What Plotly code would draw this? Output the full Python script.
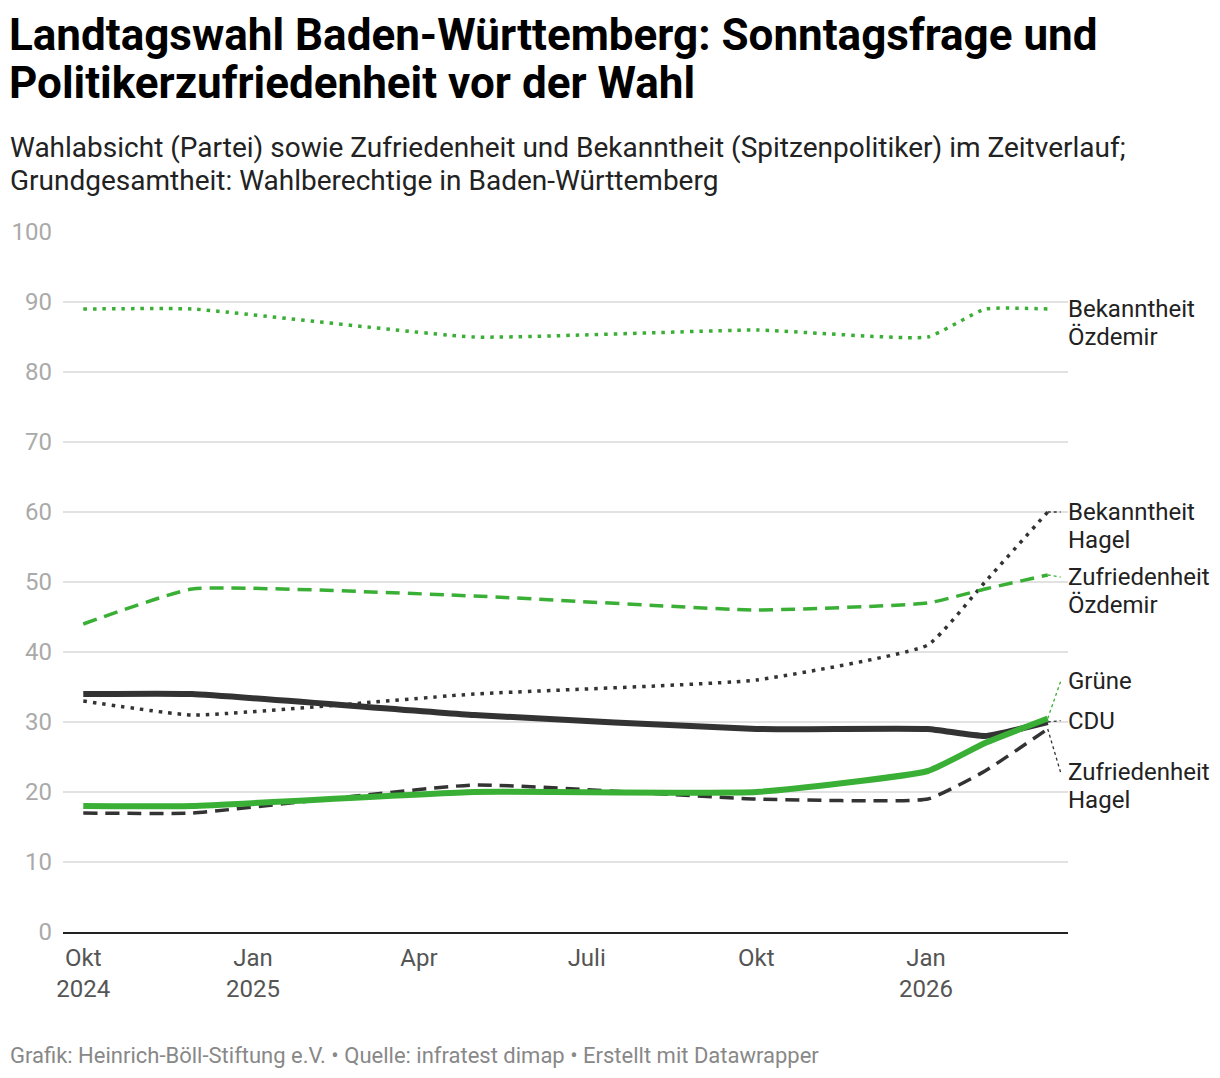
import plotly.graph_objects as go
from datetime import date, timedelta

# ---- data ----
dates = ["2024-10-01", "2024-11-29", "2025-05-01", "2025-10-01", "2026-01-02", "2026-02-02", "2026-03-08"]
gruene = [18, 18, 20, 20, 23, 27, 30.5]
cdu = [34, 34, 31, 29, 29, 28, 30]
zufr_oezdemir = [44, 49, 48, 46, 47, 49, 51]
bek_oezdemir = [89, 89, 85, 86, 85, 89, 89]
zufr_hagel = [17, 17, 21, 19, 19, 23, 29]
bek_hagel = [33, 31, 34, 36, 41, 50, 60]

tick_vals = ["2024-10-01", "2025-01-01", "2025-04-01", "2025-07-01", "2025-10-01", "2026-01-01"]
tick_text = ["Okt<br>2024", "Jan<br>2025", "Apr", "Juli", "Okt", "Jan<br>2026"]

title_lines = ["Landtagswahl Baden-Württemberg: Sonntagsfrage und",
               "Politikerzufriedenheit vor der Wahl"]
subtitle_lines = ["Wahlabsicht (Partei) sowie Zufriedenheit und Bekanntheit (Spitzenpolitiker) im Zeitverlauf;",
                  "Grundgesamtheit: Wahlberechtige in Baden-Württemberg"]
footer = "Grafik: Heinrich-Böll-Stiftung e.V. • Quelle: infratest dimap • Erstellt mit Datawrapper"

GREEN = "#3aaf35"
DARK = "#333333"
DOT = "3.5px,6px"
DASH = "14px,8px"

series = [
    # name, values, color, dash, width, label lines, label_y
    ("Bekanntheit Özdemir", bek_oezdemir, GREEN, DOT, 3.5, ["Bekanntheit", "Özdemir"], 89),
    ("Bekanntheit Hagel", bek_hagel, DARK, DOT, 3.5, ["Bekanntheit", "Hagel"], 60),
    ("Zufriedenheit Özdemir", zufr_oezdemir, GREEN, DASH, 3.5, ["Zufriedenheit", "Özdemir"], 50.7),
    ("Zufriedenheit Hagel", zufr_hagel, DARK, DASH, 3.5, ["Zufriedenheit", "Hagel"], 22.8),
    ("CDU", cdu, DARK, "solid", 6, ["CDU"], 30.2),
    ("Grüne", gruene, GREEN, "solid", 6, ["Grüne"], 35.8),
]

W, H = 1220, 1078
PL, PR, PT, PB = 63, 1068, 232, 932


def py(pixel_y):
    return (PB - pixel_y) / (PB - PT)


def px(pixel_x):
    return (pixel_x - PL) / (PR - PL)


fig = go.Figure()
last_date = date.fromisoformat(dates[-1])
leader_end = (last_date + timedelta(days=7)).isoformat()

for name, vals, color, dash, width, label, ly in series:
    fig.add_trace(go.Scatter(
        x=dates, y=vals, mode="lines", name=name,
        line=dict(color=color, dash=dash, width=width, shape="spline", smoothing=0.4),
        hoverinfo="skip", showlegend=False,
    ))
    if name != "Bekanntheit Özdemir":
        fig.add_trace(go.Scatter(
            x=[dates[-1], leader_end], y=[vals[-1], ly], mode="lines",
            line=dict(color=color, dash="dot", width=1.3),
            hoverinfo="skip", showlegend=False,
        ))
    for i, line_text in enumerate(label):
        fig.add_annotation(
            x=1.0, xref="paper", y=ly, yref="y", text=line_text, showarrow=False,
            xanchor="left", yanchor="middle", yshift=-28 * i, xshift=-2, align="left",
            font=dict(family="Roboto", size=24, color="#222222"),
        )

for i, t in enumerate(title_lines):
    fig.add_annotation(
        x=px(10), xref="paper", y=py(35 + 48 * i), yref="paper",
        xanchor="left", yanchor="middle", showarrow=False, xshift=-3,
        text="<b>" + t + "</b>",
        font=dict(family="Roboto", size=44, color="#000000"),
    )
for i, t in enumerate(subtitle_lines):
    fig.add_annotation(
        x=px(10), xref="paper", y=py(148 + 33 * i), yref="paper",
        xanchor="left", yanchor="middle", showarrow=False, xshift=-2,
        text=t, font=dict(family="Roboto", size=28, color="#222222"),
    )
fig.add_annotation(
    x=px(10), xref="paper", y=py(1055), yref="paper",
    xanchor="left", yanchor="middle", showarrow=False, xshift=-2,
    text=footer, font=dict(family="Roboto", size=22, color="#888888"),
)

fig.update_layout(
    width=W, height=H,
    paper_bgcolor="white", plot_bgcolor="white",
    margin=dict(l=PL, r=W - PR, t=PT, b=H - PB),
    font=dict(family="Roboto"),
    showlegend=False,
)

fig.update_yaxes(
    range=[0, 100], tickvals=list(range(0, 101, 10)),
    showgrid=True, gridcolor="#e2e2e2", gridwidth=1.5,
    zeroline=False, showline=False, ticks="",
    tickfont=dict(family="Roboto", size=24, color="#aaaaaa"),
    ticklabelstandoff=10, fixedrange=True,
)
fig.update_xaxes(
    type="date", range=["2024-09-20", "2026-03-19"],
    tickvals=tick_vals, ticktext=tick_text,
    showgrid=False, zeroline=False,
    showline=True, linecolor="#222222", linewidth=2,
    ticks="", tickfont=dict(family="Roboto", size=24, color="#555555"),
    ticklabelstandoff=3, fixedrange=True,
)

fig.write_html("out.html", post_script="document.body.style.margin='0';",
               config={"displayModeBar": False})
